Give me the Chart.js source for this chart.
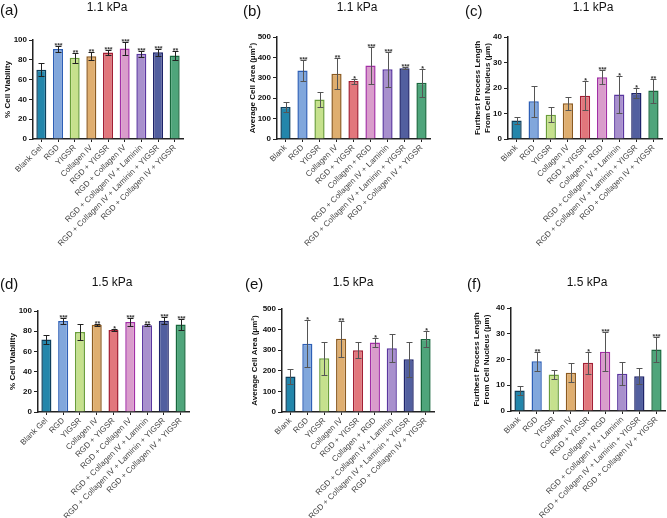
<!DOCTYPE html>
<html><head><meta charset="utf-8">
<script src="https://cdn.jsdelivr.net/npm/chart.js@4.4.1/dist/chart.umd.min.js"></script>
<style>
html,body{margin:0;padding:0;background:#fff;}
#wrap{position:relative;width:667px;height:518px;overflow:hidden;background:#fff;}
canvas{position:absolute;}
</style></head><body>
<div id="wrap">
<canvas id="pa" width="222" height="259" style="left:0px;top:0px"></canvas>
<canvas id="pb" width="222" height="259" style="left:222px;top:0px"></canvas>
<canvas id="pc" width="223" height="259" style="left:444px;top:0px"></canvas>
<canvas id="pd" width="222" height="259" style="left:0px;top:259px"></canvas>
<canvas id="pe" width="222" height="259" style="left:222px;top:259px"></canvas>
<canvas id="pf" width="223" height="259" style="left:444px;top:259px"></canvas>
</div>
<script>
// ---------- DATA ----------
const categoriesViability = ['Blank Gel','RGD','YIGSR','Collagen IV','RGD + YIGSR','RGD + Collagen IV','RGD + Collagen IV + Laminin','RGD + Collagen IV + Laminin + YIGSR','RGD + Collagen IV + YIGSR'];
const categoriesMorphology = ['Blank','RGD','YIGSR','Collagen IV','RGD + YIGSR','Collagen + RGD','RGD + Collagen IV + Laminin','RGD + Collagen IV + Laminin + YIGSR','RGD + Collagen IV + YIGSR'];

const viability11     = [70, 91, 82, 83.7, 87.3, 91.3, 86, 87.7, 84.3];
const viability11Sd   = [6.3, 3, 5.3, 3.8, 2.2, 6.5, 3.2, 3.5, 4.3];
const viability11Sig  = ['', '***', '**', '**', '***', '***', '***', '***', '**'];

const area11          = [157, 336, 194, 320, 284, 360, 342, 347, 276];
const area11Sd        = [26, 50, 38, 75, 12, 89, 85, 5, 68];
const area11Sig       = ['', '***', '', '**', '*', '***', '***', '***', '*'];

const process11       = [7.3, 14.8, 9.5, 14.0, 17.0, 24.2, 17.5, 18.0, 19.0];
const process11Sd     = [1.3, 6.0, 2.9, 2.5, 5.8, 2.7, 7.2, 1.9, 4.7];
const process11Sig    = ['', '', '', '', '*', '***', '*', '*', '**'];

const viability15     = [71.7, 90, 79.3, 86.3, 81.3, 89, 86, 90.3, 86.7];
const viability15Sd   = [4.8, 3.2, 8, 0.7, 1, 4.2, 1.3, 3.3, 5.2];
const viability15Sig  = ['', '***', '', '**', '*', '***', '**', '***', '***'];

const area15          = [172, 331, 261, 355, 300, 337, 310, 256, 354];
const area15Sd        = [38, 114, 79, 88, 38, 22, 69, 86, 37];
const area15Sig       = ['', '*', '', '**', '', '*', '', '', '*'];

const process15       = [8.0, 19.3, 14.2, 14.9, 18.7, 23.0, 14.5, 13.5, 23.9];
const process15Sd     = [1.6, 3.6, 1.9, 3.7, 4.4, 7.6, 4.4, 3.1, 4.8];
const process15Sig    = ['', '**', '', '', '*', '***', '', '', '***'];

const fillColors   = ['#2386ab','#81a7dc','#c6e18d','#dfae6f','#e2777c','#d99dcb','#a890cd','#525f9f','#4fa57b'];
const borderColors = ['#0d3e5b','#2d5fb6','#6a9e3a','#8c5a1f','#a31f34','#a22fa6','#5a36a0','#1d2369','#17673c'];

// ---------- PLUGINS ----------
const FONT = "'Liberation Sans', Arial, sans-serif";
const errorBarPlugin = {
  id: 'errorBars',
  afterDatasetsDraw(chart, args, opts) {
    const meta = chart.getDatasetMeta(0);
    const ys = chart.scales.y;
    const vals = chart.data.datasets[0].data;
    const ctx = chart.ctx;
    ctx.save();
    ctx.strokeStyle = opts.color;
    ctx.lineWidth = 1;
    meta.data.forEach((bar, i) => {
      const v = vals[i], s = opts.sd[i];
      const yt = Math.round(ys.getPixelForValue(v + s)) + 0.5;
      const yb = Math.round(ys.getPixelForValue(Math.max(0, v - s))) + 0.5;
      const x = Math.round(bar.x) + 0.5;
      ctx.beginPath();
      ctx.moveTo(x, yt); ctx.lineTo(x, yb);
      ctx.moveTo(x - 3, yt); ctx.lineTo(x + 3, yt);
      ctx.moveTo(x - 3, yb); ctx.lineTo(x + 3, yb);
      ctx.stroke();
      if (opts.sig[i]) {
        ctx.fillStyle = '#333';
        ctx.font = 'bold 7px ' + FONT;
        ctx.textAlign = 'center';
        ctx.textBaseline = 'alphabetic';
        ctx.fillText(opts.sig[i], x, yt + 1);
      }
    });
    ctx.restore();
  }
};
const panelTextPlugin = {
  id: 'panelText',
  afterDraw(chart, args, opts) {
    const ctx = chart.ctx;
    ctx.save();
    ctx.fillStyle = '#111';
    ctx.textBaseline = 'middle';
    ctx.textAlign = 'left';
    ctx.font = '15px ' + FONT;
    ctx.fillText(opts.letter, opts.lx, opts.ly);
    ctx.textAlign = 'center';
    ctx.font = '12px ' + FONT;
    ctx.fillText(opts.title, opts.tx, opts.ty);
    ctx.restore();
  }
};

function makeChart(id, p) {
  return new Chart(document.getElementById(id), {
    type: 'bar',
    data: {
      labels: p.labels,
      datasets: [{
        data: p.values,
        backgroundColor: fillColors,
        borderColor: borderColors,
        borderWidth: 1.5,
        barPercentage: 0.75,
        categoryPercentage: 0.8
      }]
    },
    options: {
      responsive: false,
      animation: false,
      devicePixelRatio: 1,
      layout: { padding: { left: p.padL, right: p.w - p.plotR, top: p.plotT, bottom: 0 } },
      plugins: {
        legend: { display: false },
        tooltip: { enabled: false },
        errorBars: { sd: p.sd, sig: p.sig, color: p.errColor },
        panelText: { letter: p.letter, lx: p.lx, ly: p.ly, title: p.title, tx: p.tx, ty: p.ty }
      },
      scales: {
        x: {
          grid: { display: true, drawOnChartArea: false, offset: false, tickLength: 3, color: '#222', lineWidth: 1 },
          border: { display: true, color: '#222', width: 1.5 },
          ticks: { autoSkip: false, minRotation: 45, maxRotation: 45, padding: 1, color: '#444', font: { family: FONT, size: 8 } },
          afterFit(s) { s.height = p.h - p.plotB; s.paddingLeft = 0; s.paddingRight = 0; }
        },
        y: {
          min: 0, max: p.max,
          ticks: { stepSize: p.step, color: '#111', padding: 2, font: { family: FONT, size: 8, weight: 'bold' } },
          grid: { display: true, drawOnChartArea: false, tickLength: 4, color: '#222', lineWidth: 1 },
          border: { display: true, color: '#222', width: 1.5 },
          title: { display: true, text: p.ytitle, color: '#111', padding: { top: 0, bottom: 0 }, font: { family: FONT, size: 8, weight: 'bold' } },
          afterFit(s) { s.width = p.plotL - p.padL; s.paddingTop = 0; s.paddingBottom = 0; }
        }
      }
    },
    plugins: [errorBarPlugin, panelTextPlugin]
  });
}

const yViab = '% Cell Viability';
const yArea = 'Average Cell Area (\u03BCm\u00B2)';
const yProc = ['Furthest Process Length', 'From Cell Nucleus (\u03BCm)'];

makeChart('pa', { w:222, h:259, plotL:33, plotR:183, plotT:40, plotB:139, padL:3,
  labels:categoriesViability, values:viability11, sd:viability11Sd, sig:viability11Sig, errColor:'#222',
  max:100, step:20, ytitle:yViab, letter:'(a)', lx:0, ly:11, title:'1.1 kPa', tx:107, ty:8 });
makeChart('pb', { w:222, h:259, plotL:55, plotR:208, plotT:37, plotB:139, padL:26,
  labels:categoriesMorphology, values:area11, sd:area11Sd, sig:area11Sig, errColor:'#555',
  max:500, step:100, ytitle:yArea, letter:'(b)', lx:21, ly:12, title:'1.1 kPa', tx:135, ty:8 });
makeChart('pc', { w:223, h:259, plotL:64, plotR:218, plotT:37, plotB:139, padL:29,
  labels:categoriesMorphology, values:process11, sd:process11Sd, sig:process11Sig, errColor:'#555',
  max:40, step:10, ytitle:yProc, letter:'(c)', lx:21, ly:12, title:'1.1 kPa', tx:149, ty:8 });
makeChart('pd', { w:222, h:259, plotL:38, plotR:189, plotT:52, plotB:153, padL:8,
  labels:categoriesViability, values:viability15, sd:viability15Sd, sig:viability15Sig, errColor:'#222',
  max:100, step:20, ytitle:yViab, letter:'(d)', lx:0, ly:26, title:'1.5 kPa', tx:112, ty:24 });
makeChart('pe', { w:222, h:259, plotL:60, plotR:212, plotT:50, plotB:153, padL:28,
  labels:categoriesMorphology, values:area15, sd:area15Sd, sig:area15Sig, errColor:'#555',
  max:500, step:100, ytitle:yArea, letter:'(e)', lx:23, ly:26, title:'1.5 kPa', tx:131, ty:24 });
makeChart('pf', { w:223, h:259, plotL:67, plotR:221, plotT:49, plotB:152, padL:28,
  labels:categoriesMorphology, values:process15, sd:process15Sd, sig:process15Sig, errColor:'#555',
  max:40, step:10, ytitle:yProc, letter:'(f)', lx:23, ly:26, title:'1.5 kPa', tx:143, ty:24 });
</script>
</body></html>
